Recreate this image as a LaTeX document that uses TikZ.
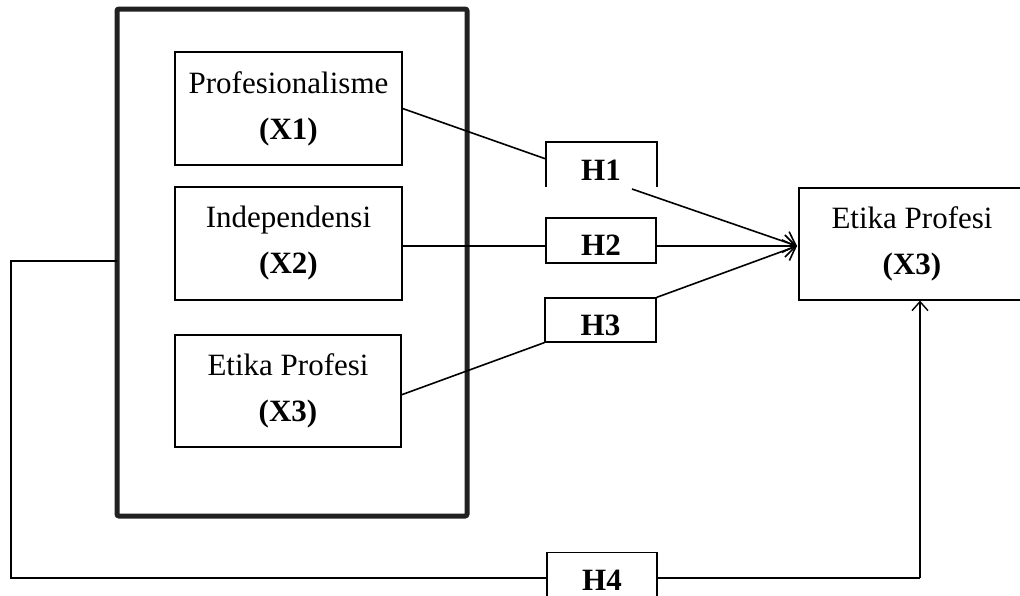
\documentclass[tikz,border=0pt]{standalone}
\usepackage{fontspec}
\setmainfont{Liberation Serif}
\usetikzlibrary{arrows.meta}
\newcommand{\dfont}{\fontsize{31}{46}\selectfont}
\begin{document}
\begin{tikzpicture}[x=1pt,y=-1pt,
  vbox/.style={draw, line width=1.2pt, minimum width=227pt, minimum height=113pt, inner sep=0pt, align=center, font=\dfont},
  hbox/.style={draw, line width=1.2pt, minimum width=110pt, minimum height=45pt, inner sep=0pt, font=\dfont\bfseries, text height=30pt, text depth=0pt},
  conn/.style={line width=1.6pt},
  arr/.style={conn, -{Straight Barb[length=11pt,width=22pt,line width=1.6pt]}},
  bigbox/.style={draw=black!87, line width=5pt, rounded corners=2pt}
]
\useasboundingbox (0,0) rectangle (1020,595);
\clip (0,0) rectangle (1020,595);
\fill[white] (0,0) rectangle (1020,595);

% outer group box
\draw[bigbox] (117,9) rectangle (467,516);
\coordinate (bigW) at (117,261);

% left boxes
\node[vbox] (x1) at (288.5,108.5) {Profesionalisme\\\textbf{(X1)}};
\node[vbox] (x2) at (288.5,243.5) {Independensi\\\textbf{(X2)}};
\node[vbox, minimum width=226pt, minimum height=112pt] (x3l) at (288,391) {Etika Profesi\\\textbf{(X3)}};

% right box
\node[vbox, minimum width=226pt, minimum height=112pt] (x3r) at (912,244) {Etika Profesi\\\textbf{(X3)}};

% hypothesis boxes
\node[font=\dfont\bfseries, inner sep=0pt] (h1) at (601,170) {H1};
\draw[line width=1.2pt] (546,187) -- (546,142) -- (657,142) -- (657,187);
\node[hbox] (h2) at (601,240.5) {H2};
\node[hbox, minimum width=111pt, minimum height=44pt] (h3) at (600.5,320) {H3};
\node[hbox, minimum height=54pt, text height=21pt] (h4) at (602,579.5) {H4};

% connector points
\coordinate (tip) at (797,246);
\coordinate (h1in) at (546,159);
\coordinate (h1out) at (632,189);
\coordinate (x3out) at (401,395);
\coordinate (lc) at (11,261);
\coordinate (bl) at (11,578);
\coordinate (br) at (920,578);

% connectors
\draw[conn] (x1.east) -- (h1in);
\draw[arr] (h1out) -- (tip);
\draw[conn] (x2.east |- tip) -- (h2.west |- tip);
\draw[arr] (h2.east |- tip) -- (tip);
\draw[conn] (x3out) -- (h3.south west);
\draw[arr] (h3.north east) -- (tip);
\draw[conn] (bigW) -- (lc) -- (bl) -- (h4.west |- bl);
\draw[conn] (h4.east |- br) -- (br);
\draw[conn, -{Straight Barb[length=9pt,width=16pt,line width=1.4pt]}] (br) -- (x3r.south -| br);
\end{tikzpicture}
\end{document}
